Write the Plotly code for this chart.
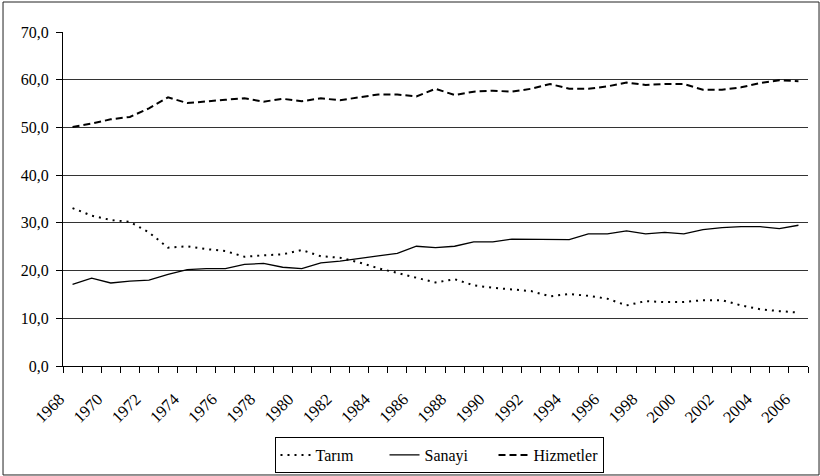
import plotly.graph_objects as go

years = list(range(1968, 2007))

tarim = [33.1, 31.5, 30.6, 30.2, 28.0, 24.8, 25.1, 24.5, 24.1, 22.9,
         23.2, 23.4, 24.3, 23.0, 22.7, 21.7, 20.5, 19.5, 18.6, 17.5,
         18.2, 16.9, 16.4, 16.1, 15.7, 14.6, 15.1, 14.7, 14.1, 12.7,
         13.6, 13.4, 13.4, 13.8, 13.8, 12.7, 11.9, 11.5, 11.2]

sanayi = [17.1, 18.4, 17.4, 17.8, 18.0, 19.2, 20.2, 20.4, 20.4, 21.3,
          21.5, 20.7, 20.4, 21.6, 22.0, 22.6, 23.1, 23.6, 25.1, 24.8,
          25.1, 26.0, 26.0, 26.6, 26.6, 26.6, 26.5, 27.7, 27.7, 28.3,
          27.7, 28.0, 27.7, 28.6, 29.0, 29.2, 29.2, 28.8, 29.5]

hizmetler = [50.1, 50.8, 51.7, 52.2, 54.0, 56.3, 55.1, 55.5, 55.8, 56.1,
             55.4, 56.0, 55.5, 56.1, 55.7, 56.3, 56.9, 56.9, 56.5, 58.1,
             56.8, 57.5, 57.7, 57.5, 58.1, 59.1, 58.1, 58.1, 58.6, 59.4,
             58.9, 59.1, 59.1, 57.9, 57.9, 58.4, 59.3, 59.9, 59.7]

label_years = list(range(1968, 2007, 2))
y_ticks = list(range(0, 71, 10))

FONT = "Liberation Serif"

fig = go.Figure()
fig.add_trace(go.Scatter(x=years, y=tarim, name="Tarım", mode="lines",
                         line=dict(color="black", width=2, dash="2px,5px")))
fig.add_trace(go.Scatter(x=years, y=sanayi, name="Sanayi", mode="lines",
                         line=dict(color="black", width=1.3)))
fig.add_trace(go.Scatter(x=years, y=hizmetler, name="Hizmetler", mode="lines",
                         line=dict(color="black", width=2, dash="7px,4px")))

fig.update_layout(
    width=820, height=476,
    margin=dict(l=63, r=12, t=32, b=110, autoexpand=False),
    paper_bgcolor="white", plot_bgcolor="white",
    separators=",.",
    font=dict(family=FONT, size=16, color="black"),
    showlegend=True,
    legend=dict(orientation="h", xref="container", yref="container",
                x=439 / 820, xanchor="center", y=1 - 455 / 476, yanchor="middle",
                bordercolor="black", borderwidth=1, bgcolor="white",
                font=dict(family=FONT, size=16, color="black"),
                entrywidth=64, entrywidthmode="pixels"),
    xaxis=dict(range=[1967.5, 2006.5], tickmode="array", tickvals=label_years,
               ticktext=[str(y) for y in label_years], tickangle=-45,
               ticks="", showgrid=False, zeroline=False, automargin=False,
               showline=True, linecolor="black", linewidth=1,
               ticklabelstandoff=16, ticklabelshift=-13,
               minor=dict(tick0=1967.5, dtick=1, ticks="outside", ticklen=6,
                          tickcolor="black", tickwidth=1, showgrid=False),
               tickfont=dict(family=FONT, size=16.5, color="black")),
    yaxis=dict(range=[0, 70], tickmode="array", tickvals=y_ticks, tickformat=".1f",
               ticks="outside", ticklen=6, tickcolor="black", automargin=False,
               ticklabelstandoff=4,
               showline=True, linecolor="black", linewidth=1,
               showgrid=True, gridcolor="#333333", gridwidth=1, zeroline=False,
               tickfont=dict(family=FONT, size=16, color="black")),
    shapes=[dict(type="rect", xref="paper", yref="paper",
                 x0=-0.0805, x1=1.0148, y0=-0.3263, y1=1.0898,
                 line=dict(color="#222222", width=1), layer="above")],
)

fig.write_html("out.html", config={"displayModeBar": False},
               post_script="document.body.style.margin='0';document.body.style.padding='0';")
